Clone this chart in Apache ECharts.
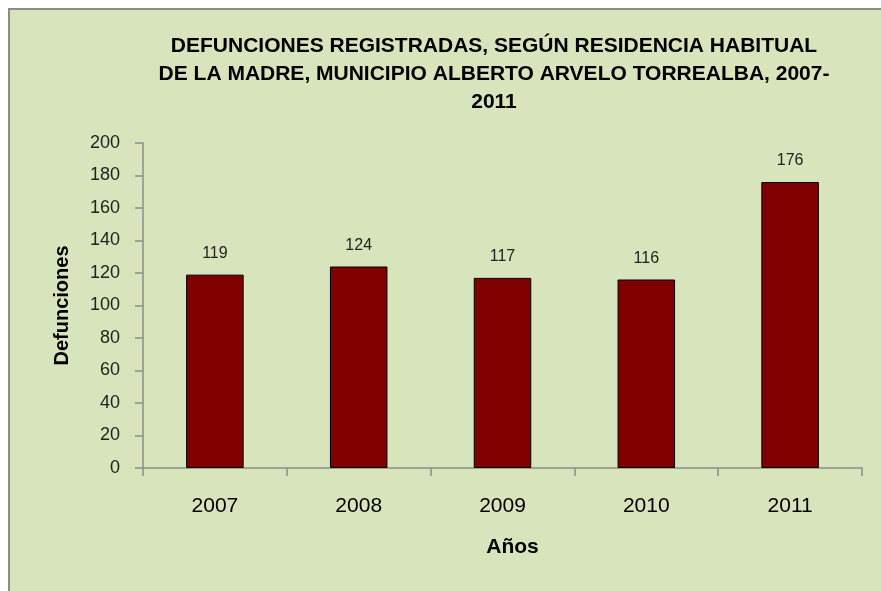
<!DOCTYPE html>
<html>
<head>
<meta charset="utf-8">
<style>
  html, body { margin: 0; padding: 0; background: #fff; }
  #main { width: 881px; height: 591px; }
</style>
<script src="https://cdn.jsdelivr.net/npm/echarts@6/dist/echarts.min.js"></script>
</head>
<body>
<div id="main"></div>
<script>
const years = ["2007", "2008", "2009", "2010", "2011"];
const deaths = [119, 124, 117, 116, 176];
const yTicks = [0, 200, 20]; // min, max, interval

const titleText = "DEFUNCIONES REGISTRADAS, SEGÚN RESIDENCIA HABITUAL\nDE LA MADRE, MUNICIPIO ALBERTO ARVELO TORREALBA, 2007-\n2011";
const sans = "'Liberation Sans', Arial, sans-serif";

let chart = echarts.init(document.getElementById("main"));
chart.setOption({
    backgroundColor: "#fff",
    animation: false,
    graphic: [{
        type: "rect",
        z: -10,
        shape: { x: 9, y: 9, width: 900, height: 600 },
        style: { fill: "#d8e4bc", stroke: "#8c8c8c", lineWidth: 2 }
    }],
    title: {
        text: titleText,
        left: 489,
        top: 27,
        textAlign: "center",
        textStyle: {
            fontFamily: sans,
            fontWeight: "bold",
            fontSize: 21,
            lineHeight: 28,
            color: "#000"
        }
    },
    grid: { left: 143, right: 19, top: 143, bottom: 123 },
    xAxis: {
        type: "category",
        data: years,
        name: "Años",
        nameLocation: "middle",
        nameGap: 69,
        nameTextStyle: {
            fontFamily: sans, fontWeight: "bold", fontSize: 21, color: "#000",
            padding: [0, 0, 0, 20]
        },
        axisLine: { lineStyle: { color: "#8c8c8c", width: 1.5 } },
        axisTick: { show: true, length: 8, lineStyle: { color: "#8c8c8c", width: 1.5 } },
        axisLabel: { margin: 28, fontFamily: sans, fontSize: 21, color: "#000" }
    },
    yAxis: {
        type: "value",
        min: yTicks[0],
        max: yTicks[1],
        interval: yTicks[2],
        name: "Defunciones",
        nameLocation: "middle",
        nameGap: 71,
        nameTextStyle: { fontFamily: sans, fontWeight: "bold", fontSize: 20, color: "#000" },
        splitLine: { show: false },
        axisLine: { show: true, lineStyle: { color: "#8c8c8c", width: 1.5 } },
        axisTick: { show: true, length: 8, lineStyle: { color: "#8c8c8c", width: 1.5 } },
        axisLabel: { margin: 23, fontFamily: sans, fontSize: 18, color: "#222" }
    },
    series: [{
        type: "bar",
        data: deaths,
        barWidth: "40%",
        itemStyle: { color: "#800000", borderColor: "#000", borderWidth: 1 },
        label: {
            show: true,
            position: "top",
            distance: 13,
            fontFamily: sans,
            fontSize: 16,
            color: "#222"
        }
    }]
});
</script>
</body>
</html>
